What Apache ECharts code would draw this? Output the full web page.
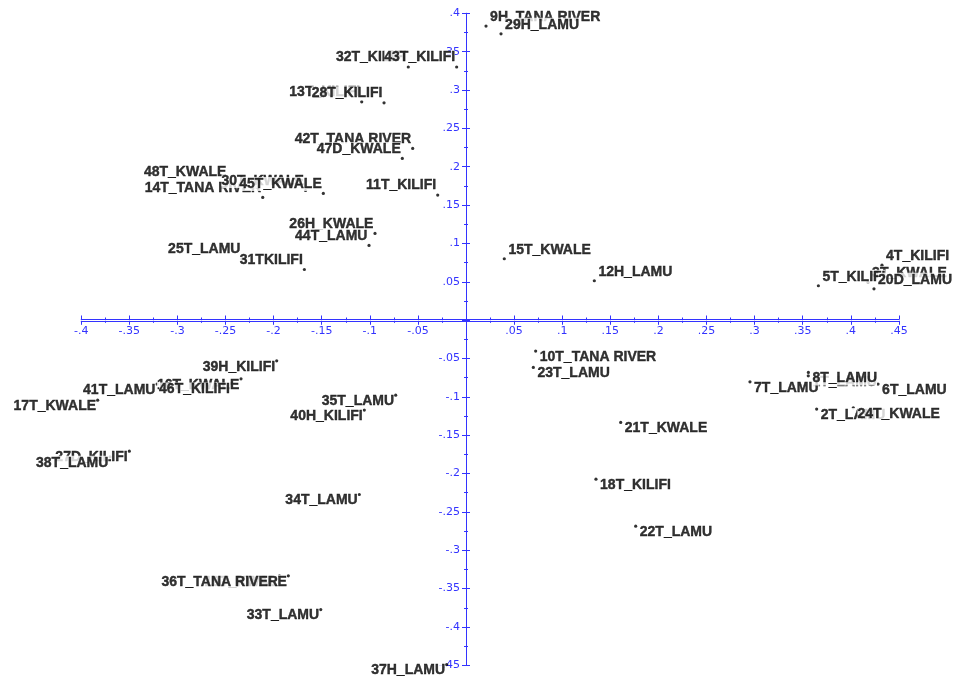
<!DOCTYPE html>
<html><head><meta charset="utf-8">
<script src="https://cdn.jsdelivr.net/npm/echarts@6/dist/echarts.min.js"></script>
<style>html,body{margin:0;padding:0;background:#fff}#c{width:955px;height:680px}</style>
</head><body><div id="c"></div>
<script>
// Point names (drawing order: later labels cover earlier ones)
const names = [
  '48T_KWALE','14T_TANA RIVER','30T_KWALE','45T_KWALE','11T_KILIFI',
  '13T_KILIFI','28T_KILIFI','32T_KILIFI','43T_KILIFI','42T_TANA RIVER','47D_KWALE',
  '26H_KWALE','44T_LAMU','25T_LAMU','31TKILIFI',
  '9H_TANA RIVER','29H_LAMU','15T_KWALE','12H_LAMU','3T_KWALE','5T_KILIFI','4T_KILIFI','20D_LAMU',
  '10T_TANA RIVER','23T_LAMU','1T_LAMU','7T_LAMU','8T_LAMU','6T_LAMU','2T_LAMU','24T_KWALE',
  '21T_KWALE','18T_KILIFI','22T_LAMU',
  '39H_KILIFI','16T_KWALE','41T_LAMU','46T_KILIFI','17T_KWALE','35T_LAMU','40H_KILIFI',
  '27D_KILIFI','38T_LAMU','34T_LAMU','19T_KWALE','36T_TANA RIVER','33T_LAMU','37H_LAMU'
];
const xValues = [
  -0.2474,-0.2113,-0.1668,-0.1483,-0.0294,
  -0.1084,-0.0852,-0.0600,-0.0097,-0.0554,-0.0662,
  -0.0946,-0.1008,-0.2328,-0.1680,
  0.0208,0.0364,0.0398,0.1334,0.4179,0.3663,0.4324,0.4241,
  0.0724,0.0700,0.3558,0.2952,0.3559,0.4283,0.3645,0.4026,
  0.1608,0.1351,0.1764,
  -0.1968,-0.2339,-0.3212,-0.2438,-0.3829,-0.0731,-0.1057,
  -0.3500,-0.3701,-0.1109,-0.1847,-0.1939,-0.1510,-0.0201
];
const yValues = [
  0.1803,0.1600,0.1690,0.1652,0.1630,
  0.2846,0.2833,0.3300,0.3300,0.2238,0.2108,
  0.1130,0.0974,0.0798,0.0660,
  0.3833,0.3733,0.0800,0.0513,0.0495,0.0448,0.0717,0.0408,
  -0.0404,-0.0617,-0.0726,-0.0804,-0.0682,-0.0834,-0.1160,-0.1143,
  -0.1334,-0.2073,-0.2686,
  -0.0531,-0.0765,-0.0834,-0.0825,-0.1043,-0.0978,-0.1173,
  -0.1708,-0.1782,-0.2273,-0.3334,-0.3334,-0.3773,-0.4490
];
// Axis scale settings (tick labels every .05)
const xAxisMin = -0.4, xAxisMax = 0.45;
const yAxisMin = -0.45, yAxisMax = 0.4;
const tickStep = 0.05;

const blue = '#3333ff';
function fmt(v) {
  const r = Math.round(v * 1000) / 1000;
  if (r === 0) return '';
  return String(r).replace('0.', '.');
}
function axis(pos, min, max, showLabel, margin) {
  return {
    type: 'value', position: pos, min: min, max: max, interval: tickStep, offset: 0,
    axisLine: { show: true, onZero: false, lineStyle: { color: blue, width: 1 } },
    axisTick: { show: true, length: 4, lineStyle: { color: blue, width: 1 } },
    minorTick: { show: true, splitNumber: 2, length: 2, lineStyle: { color: blue, width: 1 } },
    axisLabel: { show: showLabel, color: blue, fontSize: 11, fontFamily: 'DejaVu Sans', margin: margin, formatter: fmt },
    splitLine: { show: false }, minorSplitLine: { show: false }
  };
}
function labelFor(x, y) {
  if (x < 0 && y > 0) return { position: 'left', distance: 0, offset: [0, -9.5] };
  if (x >= 0 && y > 0) return { position: 'right', distance: 2.5, offset: [0, -9] };
  if (x >= 0 && y <= 0) return { position: 'right', distance: 2.5, offset: [0, 6] };
  return { position: 'left', distance: 0, offset: [0, 6] };
}
const data = names.map((n, i) => ({
  name: n, value: [xValues[i], yValues[i]], label: labelFor(xValues[i], yValues[i])
}));

const chart = echarts.init(document.getElementById('c'), null, { renderer: 'canvas' });
chart.setOption({
  animation: false,
  backgroundColor: '#fff',
  grid: { left: 81.2, right: 56.1, top: 13.3, bottom: 14.7, containLabel: false },
  xAxis: [axis('bottom', xAxisMin, xAxisMax, true, 5), axis('top', xAxisMin, xAxisMax, false, 5)],
  yAxis: [axis('left', yAxisMin, yAxisMax, true, 6), axis('right', yAxisMin, yAxisMax, false, 6)],
  series: [{
    type: 'scatter', xAxisIndex: 0, yAxisIndex: 0,
    symbol: 'circle', symbolSize: 3.2,
    itemStyle: { color: '#000' },
    emphasis: { disabled: true },
    label: {
      show: true, formatter: '{b}', color: '#000', fontFamily: 'Liberation Sans',
      fontWeight: 'bold', fontSize: 14, lineHeight: 14, backgroundColor: '#fff', padding: 0,
      textBorderColor: '#000', textBorderWidth: 0.4
    },
    data: data
  }]
});
// Move the axes so that they cross at the origin (labels follow the lines)
const finder = { xAxisIndex: 0, yAxisIndex: 0 };
const zero = chart.convertToPixel(finder, [0, 0]);
const lo = chart.convertToPixel(finder, [xAxisMin, yAxisMin]);
const hi = chart.convertToPixel(finder, [xAxisMax, yAxisMax]);
chart.setOption({
  xAxis: [{ offset: -(lo[1] - zero[1]) }, { offset: -(zero[1] - hi[1]) }],
  yAxis: [{ offset: -(zero[0] - lo[0]) }, { offset: -(hi[0] - zero[0]) }]
});
</script></body></html>
